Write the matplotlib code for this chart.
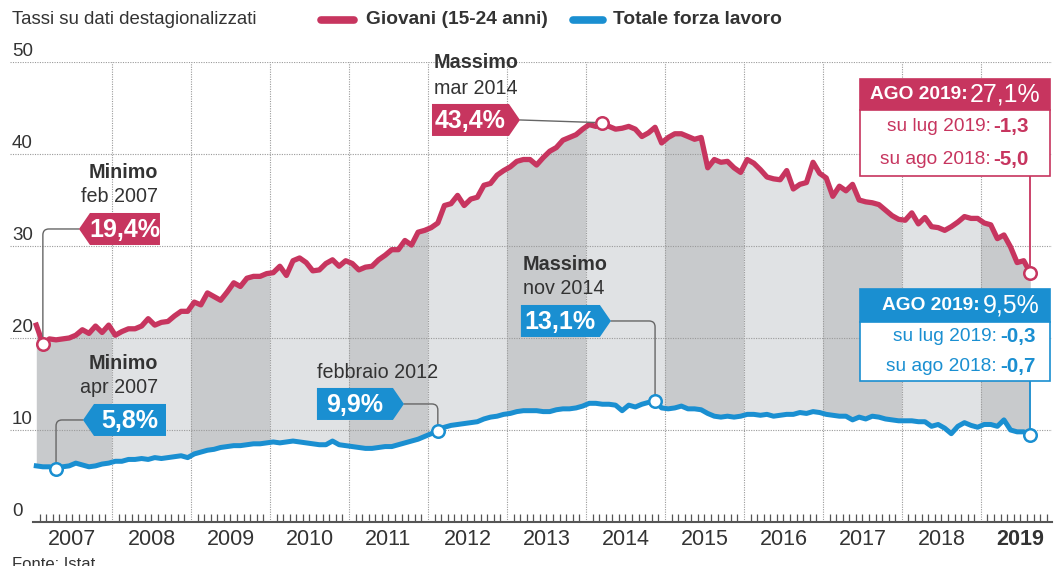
import matplotlib
matplotlib.use("Agg")
import matplotlib.pyplot as plt
import matplotlib.transforms as mtransforms
from matplotlib.lines import Line2D
from matplotlib.patches import Polygon, Rectangle
import numpy as np

plt.rcParams['font.family'] = ['Liberation Sans', 'DejaVu Sans']

RED = '#c7355f'
BLUE = '#1a8fd1'
DARK_FILL = '#c8cacc'
LIGHT_FILL = '#e0e2e4'
TXT = '#333333'
GRID = '#9a9a9a'

years = list(range(2007, 2020))
year_labels = [str(y) for y in years]
y_ticks = [0, 10, 20, 30, 40, 50]

# tassi mensili gen 2007 - ago 2019
giovani = [
    21.4, 19.4, 19.9, 19.8, 19.9, 20.0, 20.3, 20.9, 20.5, 21.3, 20.6, 21.4,
    20.3, 20.7, 21.0, 21.0, 21.3, 22.1, 21.4, 21.7, 21.8, 22.4, 22.9, 22.9,
    23.9, 23.6, 24.9, 24.5, 24.1, 25.0, 26.0, 25.6, 26.5, 26.7, 26.7, 27.0,
    27.1, 27.8, 26.8, 28.4, 28.7, 28.2, 27.3, 27.4, 28.1, 28.5, 27.8, 28.4,
    28.1, 27.4, 27.7, 27.8, 28.5, 29.0, 29.6, 29.6, 30.6, 30.1, 31.5, 31.7,
    32.0, 32.5, 34.4, 34.6, 35.5, 34.4, 35.1, 35.3, 36.6, 36.8, 37.7, 38.2,
    38.6, 39.2, 39.4, 39.4, 38.8, 39.6, 40.3, 40.7, 41.5, 41.8, 42.1, 42.7,
    43.2, 43.0, 43.4, 43.0, 42.7, 42.8, 43.0, 42.7, 41.9, 42.3, 42.9, 41.2,
    41.8, 42.2, 42.2, 41.9, 41.6, 41.8, 38.5, 39.4, 39.1, 39.2, 38.5, 38.0,
    39.4, 39.0, 38.3, 37.5, 37.3, 37.2, 38.2, 36.2, 36.7, 36.9, 39.1, 37.9,
    37.4, 35.4, 36.5, 36.0, 36.7, 35.0, 34.8, 34.7, 34.5, 33.9, 33.3, 32.9,
    32.8, 33.6, 32.4, 33.1, 32.1, 32.0, 31.7, 32.1, 32.6, 33.2, 33.0, 33.0,
    32.5, 32.3, 30.8, 31.2, 29.9, 28.2, 28.4, 27.1]

totale = [
    6.1, 6.0, 6.0, 5.8, 6.0, 6.1, 6.4, 6.2, 6.0, 6.1, 6.3, 6.4,
    6.6, 6.6, 6.8, 6.8, 6.9, 6.8, 7.0, 6.9, 7.0, 7.1, 7.2, 7.0,
    7.4, 7.6, 7.8, 7.9, 8.1, 8.2, 8.3, 8.3, 8.4, 8.5, 8.5, 8.6,
    8.7, 8.6, 8.7, 8.8, 8.7, 8.6, 8.5, 8.4, 8.4, 8.8, 8.4, 8.3,
    8.2, 8.1, 8.0, 8.0, 8.1, 8.2, 8.2, 8.4, 8.6, 8.8, 9.0, 9.3,
    9.6, 9.9, 10.3, 10.5, 10.6, 10.7, 10.8, 10.9, 11.2, 11.4, 11.5, 11.7,
    11.8, 12.0, 12.1, 12.1, 12.1, 12.0, 12.0, 12.2, 12.3, 12.3, 12.4, 12.6,
    12.9, 12.9, 12.8, 12.8, 12.7, 12.1, 12.7, 12.5, 12.8, 13.0, 13.1, 12.4,
    12.3, 12.4, 12.6, 12.3, 12.3, 12.2, 11.8, 11.5, 11.4, 11.5, 11.4, 11.5,
    11.7, 11.7, 11.6, 11.7, 11.5, 11.6, 11.7, 11.7, 11.9, 11.8, 12.0, 11.9,
    11.7, 11.6, 11.5, 11.5, 11.1, 11.4, 11.2, 11.5, 11.4, 11.2, 11.1, 11.0,
    11.0, 11.0, 10.9, 10.9, 10.4, 10.6, 10.2, 9.6, 10.4, 10.8, 10.5, 10.3,
    10.6, 10.6, 10.4, 11.1, 10.0, 9.8, 9.8, 9.5]

giovani = np.array(giovani)
totale = np.array(totale)
# each month sits in the middle of its slot
x = 2007 + (np.arange(len(giovani)) + 0.5) / 12

fig = plt.figure(figsize=(10.58, 5.66), dpi=100)
ax = fig.add_axes([10 / 1058, 44 / 566, 1042 / 1058, 460 / 566])
ax.set_xlim(2007 - 23 / 79, 2019.9)
ax.set_ylim(0, 50)
ax.axis('off')

# alternating grey bands between the two series
for i, yr in enumerate(years):
    band = ax.fill_between(x, totale, giovani, color=DARK_FILL if i % 2 == 0 else LIGHT_FILL,
                           lw=0, zorder=1)
    band.set_clip_path(Rectangle((yr, 0), 1, 50, transform=ax.transData))

# grid
for t in y_ticks[1:]:
    ax.axhline(t, color=GRID, lw=0.8, ls=(0, (1, 1.2)), zorder=2)
for t in y_ticks:
    ax.text(2007 - 21 / 79, t + 0.25, str(t), ha='left', va='bottom', fontsize=13.5, color=TXT)
for yr in years[1:]:
    ax.plot([yr, yr], [0, 50], color=GRID, lw=0.8, ls=(0, (1, 1.2)), zorder=2)

# x axis: baseline, monthly ticks, year labels
ax.plot([2007, 2019.9], [0, 0], color='#555555', lw=1.5, zorder=4, clip_on=False)
months = [yr + k / 12 for yr in years for k in range(1, 12) if yr + k / 12 < 2019.9]
ax.vlines(months, 0, 0.9, color='#555555', lw=0.9, zorder=4)
for yr, lab in zip(years, year_labels):
    ax.text(yr + 0.5, -1.95, lab, ha='center', va='center', fontsize=15.5, color=TXT,
            fontweight='bold' if yr == 2019 else 'normal')

ax.plot(x, giovani, color=RED, lw=3.8, solid_joinstyle='round', zorder=4)
ax.plot(x, totale, color=BLUE, lw=3.6, solid_joinstyle='round', zorder=4)


def tag(tip_x, tip_y, text, color, width, side):
    h = 32
    p = 11
    if side == 'left':
        verts = [(0, 0), (p, h / 2), (width, h / 2), (width, -h / 2), (p, -h / 2)]
        tx = (p + width) / 2
    else:
        verts = [(0, 0), (-p, h / 2), (-width, h / 2), (-width, -h / 2), (-p, -h / 2)]
        tx = -(p + width) / 2
    tr = mtransforms.Affine2D() + mtransforms.ScaledTranslation(tip_x, tip_y, ax.transData)
    ax.add_patch(Polygon(verts, closed=True, transform=tr, fc=color, ec='none', zorder=6,
                         clip_on=False))
    ax.text(tx, -1, text, transform=tr, ha='center', va='center', color='white',
            fontsize=18, fontweight='bold', zorder=7)


def connect(tip_x, tip_y, px, py, rad=6):
    ax.annotate('', xy=(px, py), xytext=(tip_x, tip_y),
                arrowprops=dict(arrowstyle='-', color='#666666', lw=1,
                                shrinkA=0, shrinkB=5,
                                connectionstyle=f'angle,angleA=0,angleB=90,rad={rad}'),
                zorder=5)


def two_lines(x0, y0, y1, head, sub, ha):
    ax.text(x0, y0, head, ha=ha, va='center', fontsize=14.2, fontweight='bold', color=TXT)
    ax.text(x0, y1, sub, ha=ha, va='center', fontsize=14.2, color=TXT)


# minimo giovani feb 2007
connect(2007.582, 31.85, x[1], giovani[1])
tag(2007.582, 31.85, '19,4%', RED, 81, 'left')
two_lines(2008.582, 38.04, 35.33, 'Minimo', 'feb 2007', 'right')

# minimo totale apr 2007
connect(2007.633, 11.09, x[3], totale[3])
tag(2007.633, 11.09, '5,8%', BLUE, 83, 'left')
two_lines(2008.582, 17.28, 14.67, 'Minimo', 'apr 2007', 'right')

# febbraio 2012
connect(2011.696, 12.83, x[61], totale[61])
tag(2011.696, 12.83, '9,9%', BLUE, 87, 'right')
ax.text(2010.595, 16.3, 'febbraio 2012', ha='left', va='center', fontsize=14.2, color=TXT)

# massimo totale nov 2014
connect(2014.316, 21.85, x[94], totale[94])
tag(2014.316, 21.85, '13,1%', BLUE, 90, 'right')
two_lines(2013.203, 28.04, 25.43, 'Massimo', 'nov 2014', 'left')

# massimo giovani mar 2014
ax.plot([2013.165, x[86]], [43.7, giovani[86]], color='#666666', lw=1, zorder=5)
tag(2013.165, 43.7, '43,4%', RED, 88, 'right')
two_lines(2012.076, 49.9, 47.17, 'Massimo', 'mar 2014', 'left')


def last_box(color, top, mid, bottom, value, split_head, lines, split):
    left, right = 2017.47, 2019.87
    ax.add_patch(Rectangle((left, mid), right - left, top - mid, fc=color, ec=color, lw=1.2,
                           zorder=6, clip_on=False))
    ax.add_patch(Rectangle((left, bottom), right - left, mid - bottom, fc='white', ec=color,
                           lw=1.2, zorder=6, clip_on=False))
    yh = (top + mid) / 2
    ax.text(split_head, yh, 'AGO 2019:', ha='right', va='center', color='white', fontsize=13.8,
            fontweight='bold', zorder=7)
    ax.text(split_head + 0.03, yh, value, ha='left', va='center', color='white', fontsize=18,
            zorder=7)
    step = (mid - bottom) / 2
    for k, (lab, val) in enumerate(lines):
        yl = mid - step * (k + 0.5)
        ax.text(split, yl, lab, ha='right', va='center', color=color, fontsize=13.8, zorder=7)
        ax.text(split + 0.04, yl, val, ha='left', va='center', color=color, fontsize=14.8,
                fontweight='bold', zorder=7)


# ultimo dato giovani
ax.plot([x[-1], x[-1]], [37.6, giovani[-1]], color=RED, lw=1.3, zorder=5)
last_box(RED, 48.15, 44.78, 37.6, '27,1%', 2018.835,
         [('su lug 2019:', '-1,3'), ('su ago 2018:', '-5,0')], 2019.12)

# ultimo dato totale
ax.plot([x[-1], x[-1]], [15.33, totale[-1]], color=BLUE, lw=1.3, zorder=5)
last_box(BLUE, 25.33, 21.74, 15.33, '9,5%', 2018.99,
         [('su lug 2019:', '-0,3'), ('su ago 2018:', '-0,7')], 2019.2)

# circled points
ax.plot(x[[1, 86, -1]], giovani[[1, 86, -1]], 'o', ms=9, mfc='white', mec=RED, mew=1.8,
        zorder=8, clip_on=False)
ax.plot(x[[3, 61, 94, -1]], totale[[3, 61, 94, -1]], 'o', ms=9, mfc='white', mec=BLUE,
        mew=1.8, zorder=8, clip_on=False)

# header + legend
fig.text(12 / 1058, 1 - 20 / 566, 'Tassi su dati destagionalizzati', ha='left', va='center',
         fontsize=13.4, color=TXT)
fig.add_artist(Line2D([321 / 1058, 354 / 1058], [1 - 20 / 566] * 2, lw=5.5, color=RED,
                      solid_capstyle='round', transform=fig.transFigure))
fig.text(366 / 1058, 1 - 20 / 566, 'Giovani (15-24 anni)', ha='left', va='center',
         fontsize=13.8, fontweight='bold', color=TXT)
fig.add_artist(Line2D([573 / 1058, 603 / 1058], [1 - 20 / 566] * 2, lw=5.5, color=BLUE,
                      solid_capstyle='round', transform=fig.transFigure))
fig.text(613 / 1058, 1 - 20 / 566, 'Totale forza lavoro', ha='left', va='center',
         fontsize=13.8, fontweight='bold', color=TXT)

fig.text(12 / 1058, 9 / 566, 'Fonte: Istat', ha='left', va='top', fontsize=12, color=TXT)

fig.savefig('out.png', dpi=100, facecolor='white')
